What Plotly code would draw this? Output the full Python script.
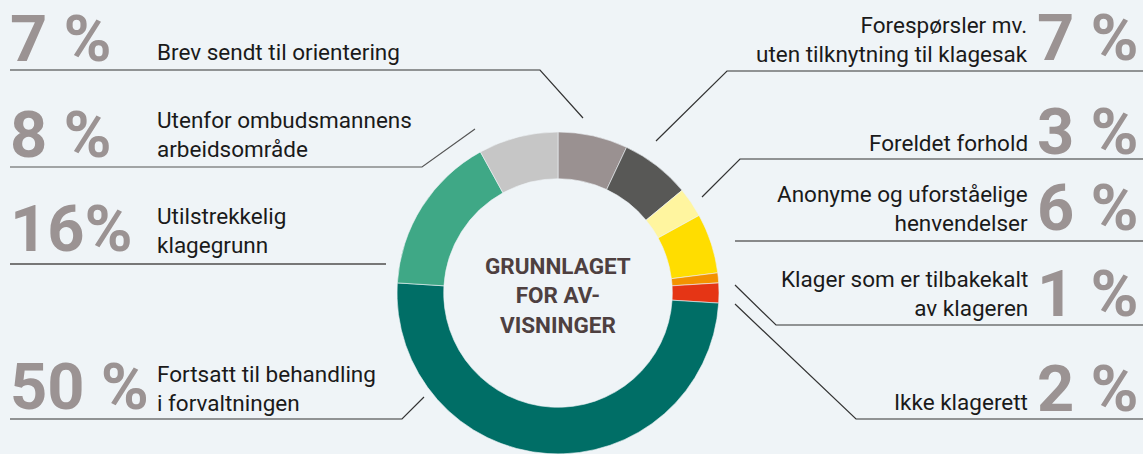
import plotly.graph_objects as go

W, H = 1143, 454

# ---- data ----
categories = [
    "Brev sendt til orientering",
    "Forespørsler mv. uten tilknytning til klagesak",
    "Foreldet forhold",
    "Anonyme og uforståelige henvendelser",
    "Klager som er tilbakekalt av klageren",
    "Ikke klagerett",
    "Fortsatt til behandling i forvaltningen",
    "Utilstrekkelig klagegrunn",
    "Utenfor ombudsmannens arbeidsområde",
]
values = [7, 7, 3, 6, 1, 2, 50, 16, 8]
colors = ["#9a9191", "#585856", "#fff59f", "#ffdd00", "#f39200",
          "#e53515", "#006e66", "#3fa886", "#c6c6c6"]

label_text = [
    "Brev sendt til orientering",
    "Forespørsler mv.<br>uten tilknytning til klagesak",
    "Foreldet forhold",
    "Anonyme og uforståelige<br>henvendelser",
    "Klager som er tilbakekalt<br>av klageren",
    "Ikke klagerett",
    "Fortsatt til behandling<br>i forvaltningen",
    "Utilstrekkelig<br>klagegrunn",
    "Utenfor ombudsmannens<br>arbeidsområde",
]
pct_text = ["7 %", "7 %", "3 %", "6 %", "1 %", "2 %", "50 %", "16%", "8 %"]
side = ["L", "R", "R", "R", "R", "R", "L", "L", "L"]
center_title = "GRUNNLAGET<br>FOR AV-<br>VISNINGER"

# ---- layout helpers (pixels -> paper) ----
def px(x):
    return x / W

def py(y):
    return 1 - y / H

cx, cy, r = 558, 293, 161

fig = go.Figure(go.Pie(
    labels=categories,
    values=values,
    marker=dict(colors=colors, line=dict(color="#eef4f7", width=0.6)),
    hole=0.71,
    sort=False,
    direction="clockwise",
    rotation=0,
    textinfo="none",
    hoverinfo="label+percent",
    showlegend=False,
    domain=dict(x=[px(cx - r), px(cx + r)], y=[0, py(cy - r)]),
))

# label vertical centers (pixel) for each category: (pct_y, text_y)
ypos = [(39, 52), (38, 39), (132, 143), (208, 208), (294, 293),
        (389, 402), (387, 388), (229, 231), (135, 134)]

annotations = []
for i, cat in enumerate(categories):
    py_pct, py_txt = ypos[i]
    if side[i] == "L":
        annotations.append(dict(x=px(8), y=py(py_pct), xref="paper", yref="paper",
                                text=f"<b>{pct_text[i]}</b>", showarrow=False,
                                xanchor="left", yanchor="middle",
                                font=dict(family="Roboto", size=65, color="#9b9393")))
        annotations.append(dict(x=px(155), y=py(py_txt), xref="paper", yref="paper",
                                text=label_text[i], showarrow=False,
                                xanchor="left", yanchor="middle", align="left",
                                font=dict(family="Roboto", size=22.5, color="#1a1a1a")))
    else:
        annotations.append(dict(x=px(1141), y=py(py_pct), xref="paper", yref="paper",
                                text=f"<b>{pct_text[i]}</b>", showarrow=False,
                                xanchor="right", yanchor="middle",
                                font=dict(family="Roboto", size=65, color="#9b9393")))
        annotations.append(dict(x=px(1030), y=py(py_txt), xref="paper", yref="paper",
                                text=label_text[i], showarrow=False,
                                xanchor="right", yanchor="middle", align="right",
                                font=dict(family="Roboto", size=22.5, color="#1a1a1a")))

annotations.append(dict(x=px(cx), y=py(295), xref="paper", yref="paper",
                        text=f"<b>{center_title}</b>", showarrow=False,
                        xanchor="center", yanchor="middle", align="center",
                        font=dict(family="Roboto", size=22.5, color="#4e4040")))

# leader lines (pixel polylines)
leaders = [
    ([(10, 70), (540, 70), (583, 118)], "#333333", 1.2),
    ([(10, 167), (422, 167), (475, 129)], "#555555", 1.2),
    ([(10, 264), (386, 264)], "#777777", 1.8),
    ([(10, 419), (402, 419), (424, 397)], "#333333", 1.2),
    ([(1143, 71), (727, 71), (656, 141)], "#333333", 1.2),
    ([(1143, 159), (740, 159), (702, 197)], "#333333", 1.2),
    ([(1143, 241), (735, 241)], "#666666", 1.5),
    ([(1143, 325), (776, 325), (735, 285)], "#333333", 1.2),
    ([(1143, 419), (856, 419), (735, 304)], "#333333", 1.2),
]
shapes = []
for pts, col, wd in leaders:
    path = "M " + " L ".join(f"{px(x)},{py(y)}" for x, y in pts)
    shapes.append(dict(type="path", path=path, xref="paper", yref="paper",
                       line=dict(color=col, width=wd), layer="below"))

fig.update_layout(
    width=W, height=H,
    margin=dict(l=0, r=0, t=0, b=0),
    paper_bgcolor="#eff4f7",
    plot_bgcolor="#eff4f7",
    annotations=annotations,
    shapes=shapes,
    font=dict(family="Roboto"),
)

fig.write_html("out.html")
